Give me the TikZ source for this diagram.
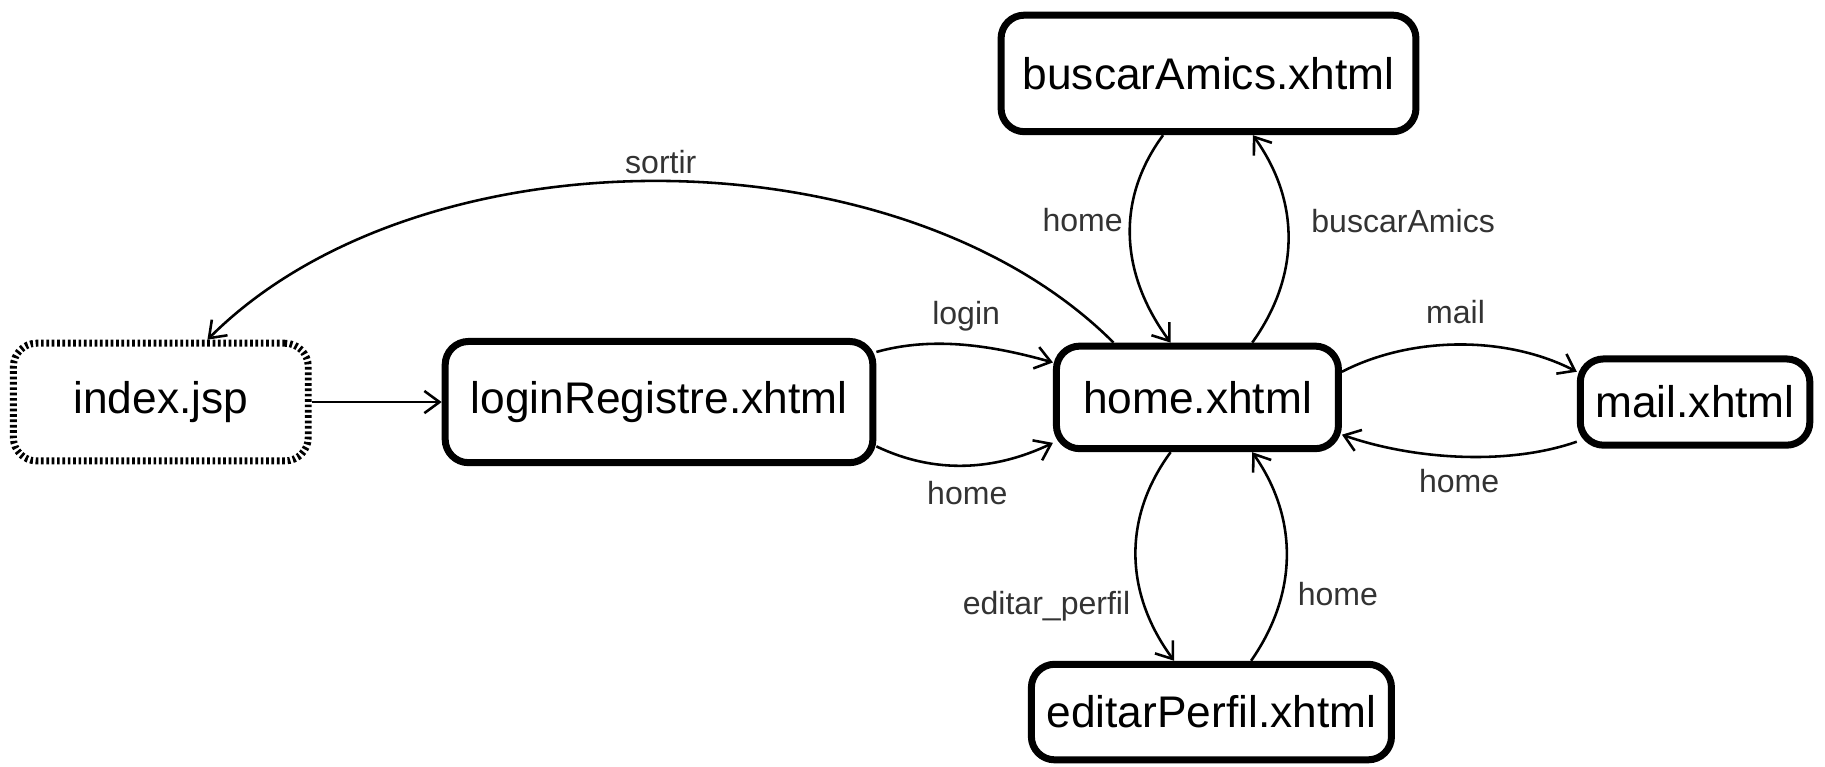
\documentclass[tikz,border=0pt]{standalone}
\usepackage{fontspec}
\setmainfont{Liberation Sans}
\usetikzlibrary{arrows.meta,calc}
\begin{document}
\begin{tikzpicture}[x=1pt,y=-1pt,
  state/.style={draw, line width=6pt, rounded corners=20pt, inner sep=0pt, font=\fontsize{38}{45}\selectfont},
  startstate/.style={state, dash pattern=on 2.3pt off 2.3pt},
  lbl/.style={font=\fontsize{27.5}{33}\selectfont, text=black!80, inner sep=0pt},
  conn/.style={line width=2.2pt, -{Straight Barb[length=13pt,width=19pt,line width=2.2pt]}}]
\useasboundingbox (0,0) rectangle (1566,658.1);
\node[startstate, minimum width=253pt, minimum height=101pt] (idx) at (138,345) {index.jsp};
\node[state, minimum width=367pt, minimum height=104pt] (lr) at (565.5,345) {loginRegistre.xhtml};
\node[state, minimum width=242pt, minimum height=88pt] (home) at (1027.5,341) {home.xhtml};
\node[state, minimum width=356pt, minimum height=100pt] (ba) at (1037,63) {buscarAmics.xhtml};
\node[state, minimum width=197pt, minimum height=74pt] (mail) at (1454.5,345) {mail.xhtml};
\node[state, minimum width=309pt, minimum height=82pt] (ep) at (1039.5,611) {editarPerfil.xhtml};

\draw[conn] (idx.east) -- (lr.west);
\draw[conn] ($(lr.east)+(0,-43)$) .. controls +(50,-14) and +(-50,-14) .. ($(home.west)+(0,-30)$);
\draw[conn] ($(lr.east)+(0,38)$) .. controls +(50,24) and +(-50,24) .. ($(home.west)+(0,39)$);
\draw[conn] ($(home.north)+(-72,0)$) .. controls +(-183,-183) and +(183,-183) .. ($(idx.north)+(40,0)$);
\draw[conn] ($(ba.south)+(-39,0)$) .. controls +(-42,57) and +(-42,-57) .. ($(home.north)+(-23,0)$);
\draw[conn] ($(home.north)+(47,0)$) .. controls +(41,-57) and +(41,57) .. ($(ba.south)+(38,0)$);
\draw[conn] ($(home.south)+(-23,0)$) .. controls +(-42,57) and +(-42,-57) .. ($(ep.north)+(-32,0)$);
\draw[conn] ($(ep.north)+(34,0)$) .. controls +(40,-57) and +(40,57) .. ($(home.south)+(47,0)$);
\draw[conn] ($(home.east)+(0,-22)$) .. controls +(60,-31) and +(-60,-31) .. ($(mail.west)+(0,-26)$);
\draw[conn] ($(mail.west)+(0,34)$) .. controls +(-60,21) and +(60,21) .. ($(home.east)+(0,32)$);

\node[lbl] (lsortir) at (567,139) {sortir};
\node[lbl] (llogin) at (829,271) {login};
\node[lbl] (lhome1) at (830,423) {home};
\node[lbl] (lhome2) at (929,189) {home};
\node[lbl] (lbuscar) at (1204,190) {buscarAmics};
\node[lbl] (lmail) at (1249,268) {mail};
\node[lbl] (lhome3) at (1252,413) {home};
\node[lbl] (leditar) at (898,520) {editar\_perfil};
\node[lbl] (lhome4) at (1148,510) {home};
\end{tikzpicture}
\end{document}
